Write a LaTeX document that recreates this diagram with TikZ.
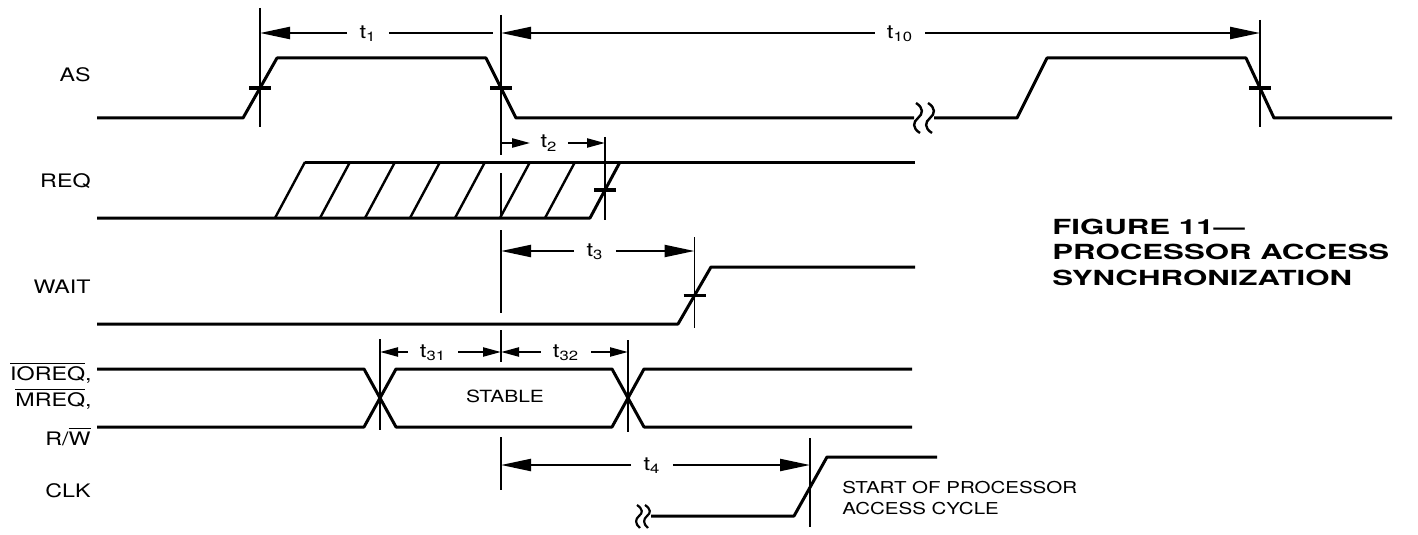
\documentclass[tikz,border=0pt]{standalone}
\usepackage{fontspec}
\setmainfont{TeX Gyre Heros}
\newfontfamily\sigfont[FakeStretch=1.25]{TeX Gyre Heros}
\newfontfamily\titlefont[FakeStretch=1.5]{TeX Gyre Heros}
\usepackage{tikz}
\usetikzlibrary{arrows.meta}

\begin{document}
\begin{tikzpicture}[x=0.5pt, y=-0.5pt,
  wave/.style = {line width=1.5pt, line join=round},
  guide/.style = {line width=0.8pt},
  bar/.style = {line width=1.6pt},
  dimline/.style = {line width=1.1pt},
  dimarrow/.style = {dimline, -{Triangle[length=15pt, width=6pt]}},
  smallarrow/.style = {dimline, -{Triangle[length=9pt, width=4.5pt]}},
  signame/.style = {inner sep=0pt, anchor=base east, font=\sigfont\fontsize{9.3}{11}\selectfont},
  tname/.style = {inner xsep=6pt, inner ysep=0pt, anchor=base, font=\sigfont\fontsize{9.5}{11}\selectfont},
  note/.style = {inner sep=0pt, anchor=north west, align=left}]
  \useasboundingbox (0,0) rectangle (1418,535);

  % signal names
  \node[signame] (nAS) at (91,81.5) {AS};
  \node[signame] (nREQ) at (91,187) {REQ};
  \node[signame] (nWAIT) at (91,293) {WAIT};
  \node[signame] (nIOREQ) at (92,380) {$\overline{\mbox{IOREQ}}$,};
  \node[signame] (nMREQ) at (92,406.5) {$\overline{\mbox{MREQ}}$,};
  \node[signame] (nRW) at (91,445) {R/$\overline{\mbox{W}}$};
  \node[signame] (nCLK) at (91,497) {CLK};

  % AS
  \draw[wave] (97,118) -- (243,118) -- (277,58) -- (486,58) -- (516,118) -- (914,118);
  \draw[wave] (934,118) -- (1017,118) -- (1047,58) -- (1246,58) -- (1274,118) -- (1392,118);
  \foreach \sx in {918,930}
    \draw[wave, line width=1.2pt] (\sx-2,103) .. controls (\sx+6,108) and (\sx+5,114) .. (\sx,118)
      .. controls (\sx-5,122) and (\sx-6,128) .. (\sx+2,133);

  % REQ
  \draw[wave] (305,162) -- (915,162);
  \draw[wave] (97,218) -- (590,218) -- (620,162);
  \foreach \i in {0,...,6}
    \draw[wave, line width=1.2pt] (275+45*\i,218) -- (305+45*\i,162);

  % WAIT
  \draw[wave] (97,324) -- (678,324) -- (711,267) -- (915,267);

  % IOREQ, MREQ, R/W
  \draw[wave] (97,369) -- (364,369) -- (396,427) -- (612,427) -- (644,369) -- (912,369);
  \draw[wave] (97,427) -- (364,427) -- (396,369) -- (612,369) -- (644,427) -- (912,427);
  \node[inner sep=0pt, anchor=base, font=\sigfont\fontsize{8.4}{10}\selectfont] (stable) at (505,402) {STABLE};

  % CLK
  \foreach \sx in {639,647}
    \draw[wave, line width=1.1pt] (\sx-2,505) .. controls (\sx+4,509) and (\sx+4,513) .. (\sx,516)
      .. controls (\sx-4,519) and (\sx-4,524) .. (\sx+1,528);
  \draw[wave] (651,516) -- (794,516) -- (827,457) -- (937,457);
  \node[note, font=\sigfont\fontsize{8.2}{10.25}\selectfont] (start) at (842,481) {START OF PROCESSOR\\ACCESS CYCLE};

  % guide lines and crossing bars
  \foreach \x/\ya/\yb in {260/8/127, 501/15/155, 501/173/218, 501/230/313, 501/330/362,
      501/437/490, 1260/20/127, 605/137/220, 694.5/237/328, 380/339/430, 628/340/432, 810/438/527}
    \draw[guide] (\x,\ya) -- (\x,\yb);
  \foreach \x/\y in {260/88, 501/88, 1260/88, 605/190, 694.5/295.5}
    \draw[bar] (\x-11,\y) -- (\x+11,\y);

  % timing labels
  \coordinate (t1a) at (260,33);   \coordinate (t1b) at (493,33);
  \coordinate (t10a) at (501,33);  \coordinate (t10b) at (1260,33);
  \coordinate (t2a) at (501,143);  \coordinate (t2b) at (605,143);
  \coordinate (t3a) at (501,251);  \coordinate (t3b) at (694.5,251);
  \coordinate (t31a) at (380,352); \coordinate (t31b) at (501,352);
  \coordinate (t32a) at (501,352); \coordinate (t32b) at (628,352);
  \coordinate (t4a) at (501,465);  \coordinate (t4b) at (810,465);

  \node[tname] (t1) at (368,38.5) {t\textsubscript{1}};
  \node[tname] (t10) at (900,38.5) {t\textsubscript{10}};
  \node[tname, inner xsep=5pt] (t2) at (549,148) {t\textsubscript{2}};
  \node[tname] (t3) at (595,256.5) {t\textsubscript{3}};
  \node[tname] (t31) at (433,357.5) {t\textsubscript{31}};
  \node[tname] (t32) at (566,357.5) {t\textsubscript{32}};
  \node[tname] (t4) at (652,470.5) {t\textsubscript{4}};

  \draw[dimarrow] (t1.west |- t1a) -- (t1a);
  \draw[dimline] (t1.east |- t1b) -- (t1b);
  \draw[dimarrow] (t10.west |- t10a) -- (t10a);
  \draw[dimarrow] (t10.east |- t10b) -- (t10b);
  \draw[smallarrow] (t2a) -- (t2.west |- t2a);
  \draw[smallarrow] (t2.east |- t2b) -- (t2b);
  \draw[dimarrow] (t3.west |- t3a) -- (t3a);
  \draw[dimarrow] (t3.east |- t3b) -- (t3b);
  \draw[smallarrow] (t31.west |- t31a) -- (t31a);
  \draw[smallarrow] (t31.east |- t31b) -- (t31b);
  \draw[smallarrow] (t32.west |- t32a) -- (t32a);
  \draw[smallarrow] (t32.east |- t32b) -- (t32b);
  \draw[dimarrow] (t4.west |- t4a) -- (t4a);
  \draw[dimarrow] (t4.east |- t4b) -- (t4b);

  % caption
  \node[note, font=\titlefont\bfseries\fontsize{10.4}{12.75}\selectfont] (title) at (1052,218.5) {FIGURE 11—\\PROCESSOR ACCESS\\SYNCHRONIZATION};
\end{tikzpicture}
\end{document}
